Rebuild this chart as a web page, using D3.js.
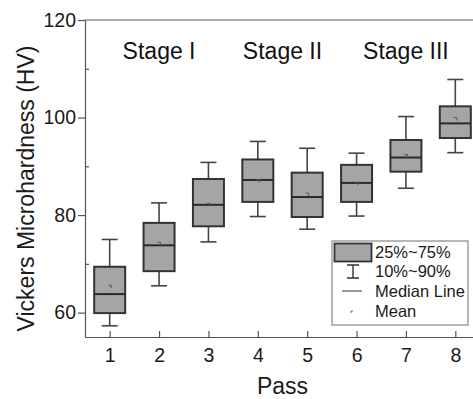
<!DOCTYPE html>
<html>
<head>
<meta charset="utf-8">
<script src="https://cdn.jsdelivr.net/npm/d3@7"></script>
<style>
  body { margin: 0; background: #fff; }
  svg { display: block; font-family: "Liberation Sans", Arial, sans-serif; }
</style>
</head>
<body>
<svg id="chart" width="473" height="399"></svg>
<script>
/* values */
let passes = [1, 2, 3, 4, 5, 6, 7, 8];
let p10    = [57.3, 65.5, 74.5, 79.7, 77.1, 79.8, 85.5, 92.8];
let q1     = [59.9, 68.5, 77.7, 82.7, 79.6, 82.7, 88.9, 95.8];
let median = [63.8, 73.8, 82.1, 87.2, 83.7, 86.6, 91.8, 98.8];
let q3     = [69.4, 78.4, 87.4, 91.4, 88.7, 90.3, 95.4, 102.3];
let p90    = [75.0, 82.5, 90.8, 95.1, 93.7, 92.7, 100.2, 107.8];
let means  = [65.3, 74.1, 82.1, 87.0, 84.2, 86.4, 92.1, 99.7];

let stageLabels = ["Stage I", "Stage II", "Stage III"];
let stagePos    = [2, 4.5, 7];

let yMajor = [60, 80, 100, 120];
let yMinor = [70, 90, 110];
let legendLabels = ["25%~75%", "10%~90%", "Median Line", "Mean"];

/* layout */
let width = 473, height = 399;
let margin = {top: 20, left: 85};
let plotRight = 480, plotBottom = 337;
let boxW = 31, capW = 16;

let svg = d3.select("#chart");

let x = d3.scaleLinear().domain([0.5, 8.5]).range([margin.left, plotRight]);
let y = d3.scaleLinear().domain([55, 120]).range([plotBottom, margin.top]);

// frame: top line and right line
svg.append("line")
   .attr("x1", margin.left).attr("x2", plotRight)
   .attr("y1", margin.top).attr("y2", margin.top)
   .attr("stroke", "#555").attr("stroke-width", 1.2);
svg.append("line")
   .attr("x1", plotRight).attr("x2", plotRight)
   .attr("y1", margin.top).attr("y2", plotBottom)
   .attr("stroke", "#555").attr("stroke-width", 1.2);

// y axis, outward major ticks
let yAxis = svg.append("g")
   .attr("transform", `translate(${margin.left},0)`)
   .call(d3.axisLeft(y).tickValues(yMajor).tickSize(7).tickPadding(2).tickSizeOuter(0));
// minor ticks pointing inward
svg.append("g")
   .attr("transform", `translate(${margin.left},0)`)
   .call(d3.axisRight(y).tickValues(yMinor).tickSize(4).tickFormat("").tickSizeOuter(0))
   .select(".domain").remove();

// x axis, inward ticks
let xAxis = svg.append("g")
   .attr("transform", `translate(0,${plotBottom})`)
   .call(d3.axisBottom(x).tickValues(passes).tickSize(-6).tickPadding(11).tickSizeOuter(0));

[yAxis, xAxis].forEach(g => {
  g.select(".domain").attr("stroke", "#555").attr("stroke-width", 1.2);
  g.selectAll(".tick text")
   .attr("fill", "#1a1a1a")
   .style("font-family", "'Liberation Sans', Arial, sans-serif")
   .style("font-size", "19.5px");
});
svg.selectAll(".tick line").attr("stroke", "#555").attr("stroke-width", 1.2);

// boxes
let boxes = passes.map((p, i) => ({
  p: p, lo: p10[i], q1: q1[i], med: median[i], q3: q3[i], hi: p90[i], mean: means[i]
}));

let g = svg.append("g");
let b = g.selectAll("g.box").data(boxes).enter().append("g").attr("class", "box");

// whiskers
b.append("line")
  .attr("x1", d => x(d.p)).attr("x2", d => x(d.p))
  .attr("y1", d => y(d.hi)).attr("y2", d => y(d.q3))
  .attr("stroke", "#444").attr("stroke-width", 1.6);
b.append("line")
  .attr("x1", d => x(d.p)).attr("x2", d => x(d.p))
  .attr("y1", d => y(d.q1)).attr("y2", d => y(d.lo))
  .attr("stroke", "#444").attr("stroke-width", 1.6);
b.append("line")
  .attr("x1", d => x(d.p) - capW / 2).attr("x2", d => x(d.p) + capW / 2)
  .attr("y1", d => y(d.hi)).attr("y2", d => y(d.hi))
  .attr("stroke", "#444").attr("stroke-width", 1.6);
b.append("line")
  .attr("x1", d => x(d.p) - capW / 2).attr("x2", d => x(d.p) + capW / 2)
  .attr("y1", d => y(d.lo)).attr("y2", d => y(d.lo))
  .attr("stroke", "#444").attr("stroke-width", 1.6);

// box
b.append("rect")
  .attr("x", d => x(d.p) - boxW / 2)
  .attr("width", boxW)
  .attr("y", d => y(d.q3))
  .attr("height", d => y(d.q1) - y(d.q3))
  .attr("fill", "#a5a5a5")
  .attr("stroke", "#333").attr("stroke-width", 2);

// median
b.append("line")
  .attr("x1", d => x(d.p) - boxW / 2).attr("x2", d => x(d.p) + boxW / 2)
  .attr("y1", d => y(d.med)).attr("y2", d => y(d.med))
  .attr("stroke", "#2a2a2a").attr("stroke-width", 2);

// mean marker
b.append("path")
  .attr("d", d => `M${x(d.p) - 1.5},${y(d.mean) - 1.5}h3v3`)
  .attr("fill", "none").attr("stroke", "#555").attr("stroke-width", 1);

// stage labels
svg.selectAll("text.stage").data(stageLabels).enter().append("text")
   .attr("class", "stage")
   .attr("x", (d, i) => x(stagePos[i]))
   .attr("y", 59)
   .attr("text-anchor", "middle")
   .attr("fill", "#111")
   .style("font-size", "23px")
   .text(d => d);

// axis titles
svg.append("text")
   .attr("transform", `translate(34,${(margin.top + plotBottom) / 2 + 10}) rotate(-90)`)
   .attr("text-anchor", "middle")
   .attr("fill", "#1a1a1a")
   .style("font-size", "23px")
   .text("Vickers Microhardness (HV)");

svg.append("text")
   .attr("x", (margin.left + plotRight) / 2)
   .attr("y", 394)
   .attr("text-anchor", "middle")
   .attr("fill", "#1a1a1a")
   .style("font-size", "23px")
   .text("Pass");

// legend
let lg = svg.append("g").attr("transform", "translate(332,241)");
lg.append("rect")
  .attr("width", 136).attr("height", 84)
  .attr("fill", "#fff").attr("stroke", "#888").attr("stroke-width", 1.2);

let rowY = [11, 30, 50, 70];
lg.append("rect")
  .attr("x", 2.5).attr("y", 2.5).attr("width", 37).attr("height", 18)
  .attr("fill", "#a5a5a5").attr("stroke", "#333").attr("stroke-width", 1.8);
lg.append("path")
  .attr("d", `M15,${rowY[1] - 6}h12M21,${rowY[1] - 6}v13M15,${rowY[1] + 7}h12`)
  .attr("fill", "none").attr("stroke", "#333").attr("stroke-width", 1.4);
lg.append("line")
  .attr("x1", 10).attr("x2", 30).attr("y1", rowY[2]).attr("y2", rowY[2])
  .attr("stroke", "#333").attr("stroke-width", 1);
lg.append("path")
  .attr("d", `M19,${rowY[3] + 2}v-2h2`)
  .attr("fill", "none").attr("stroke", "#666").attr("stroke-width", 1);

lg.selectAll("text").data(legendLabels).enter().append("text")
  .attr("x", 43)
  .attr("y", (d, i) => rowY[i] + 6)
  .attr("fill", "#1a1a1a")
  .style("font-size", "16.5px")
  .text(d => d);
</script>
</body>
</html>
